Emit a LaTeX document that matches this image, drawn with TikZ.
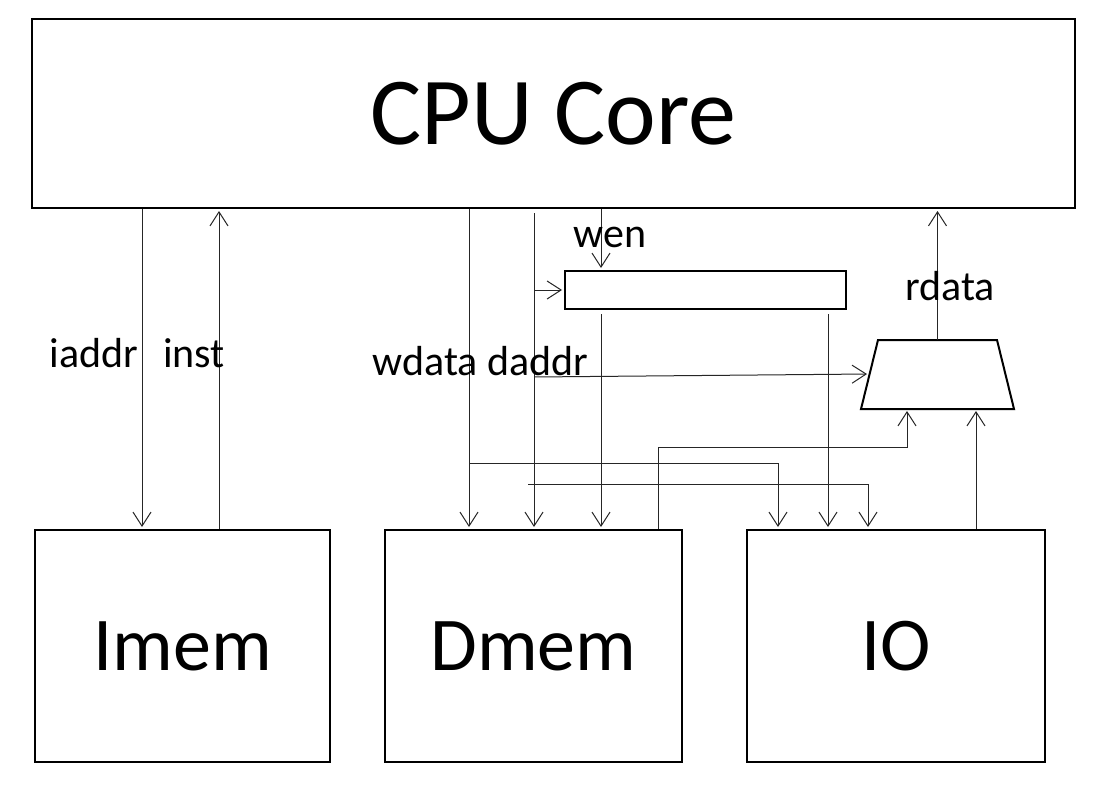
\documentclass[tikz,border=0pt]{standalone}
\usepackage{fontspec}
\setmainfont{Carlito}
\usetikzlibrary{arrows.meta}
\begin{document}
\begin{tikzpicture}[x=1pt,y=-1pt,
  box/.style={draw, line width=2pt, inner sep=0pt},
  wire/.style={line width=1pt, draw=black!85},
  arr/.style={wire, -{Straight Barb[length=14pt,width=18pt]}, shorten >=2pt},
  lbl/.style={font=\fontsize{42}{42}\selectfont, inner sep=0pt, anchor=base}]
\useasboundingbox (0,0) rectangle (1097,797);
\fill[white] (0,0) rectangle (1097,797);
\node[box, minimum width=1043pt, minimum height=189pt] (cpu) at (553.5,113.5) {\fontsize{96}{96}\selectfont CPU Core};
\node[box, minimum width=295pt, minimum height=232pt] (imem) at (182.5,646) {\fontsize{76}{76}\selectfont Imem};
\node[box, minimum width=297pt, minimum height=232pt] (dmem) at (533.5,646) {\fontsize{76}{76}\selectfont Dmem};
\node[box, minimum width=298pt, minimum height=232pt] (io) at (896,646) {\fontsize{76}{76}\selectfont IO};
\node[box, minimum width=281pt, minimum height=38pt] (reg) at (705.5,290) {};
% mux (trapezoid)
\coordinate (mtl) at (878,340);
\coordinate (mtr) at (997,340);
\coordinate (mbrc) at (1014,409);
\coordinate (mblc) at (861,409);
\coordinate (mtop) at (937.5,340);
\coordinate (mbot) at (937.5,409);
\draw[line width=2pt, line join=miter] (mtl) -- (mtr) -- (mbrc) -- (mblc) -- cycle;
% coordinates
\coordinate (xia) at (142,0);
\coordinate (xin) at (219,0);
\coordinate (xwd) at (469,0);
\coordinate (xda) at (534,0);
\coordinate (xwe) at (601,0);
\coordinate (xro) at (828,0);
\coordinate (xdm) at (658,0);
\coordinate (xms) at (907,0);
\coordinate (xio) at (976,0);
\coordinate (xwb) at (778,0);
\coordinate (xdb) at (868,0);
\coordinate (dsel) at (534,377);
\coordinate (dsin) at (869,374);
\coordinate (wbr) at (469,463);
\coordinate (dbr) at (528,484);
\coordinate (mbr) at (658,447);
% wires
\draw[arr] (cpu.south -| xia) -- (imem.north -| xia);
\draw[arr] (imem.north -| xin) -- (cpu.south -| xin);
\draw[arr] (cpu.south -| xwd) -- (dmem.north -| xwd);
\draw[arr] ([yshift=-4pt]cpu.south -| xda) -- (dmem.north -| xda);
\draw[arr] (cpu.south -| xwe) -- (reg.north -| xwe);
\draw[arr] (reg.west -| xda) -- (reg.west);
\draw[arr] ([yshift=-4pt]reg.south -| xwe) -- (dmem.north -| xwe);
\draw[arr] ([yshift=-4pt]reg.south -| xro) -- (io.north -| xro);
\draw[arr] (dsel) -- (dsin);
\draw[arr] (mtop) -- (cpu.south -| mtop);
\draw[arr] (dmem.north -| xdm) -- (mbr) -- (mbr -| xms) -- (mbot -| xms);
\draw[arr] (io.north -| xio) -- (mbot -| xio);
\draw[arr] (wbr) -- (wbr -| xwb) -- (io.north -| xwb);
\draw[arr] (dbr) -- (dbr -| xdb) -- (io.north -| xdb);
% labels
\node[lbl] (liaddr) at (94,367) {iaddr};
\node[lbl] (linst) at (194,367) {inst};
\node[lbl] (lwd) at (480.5,375) {wdata daddr};
\node[lbl] (lwen) at (610,247) {wen};
\node[lbl] (lrd) at (950,300) {rdata};
\end{tikzpicture}
\end{document}
